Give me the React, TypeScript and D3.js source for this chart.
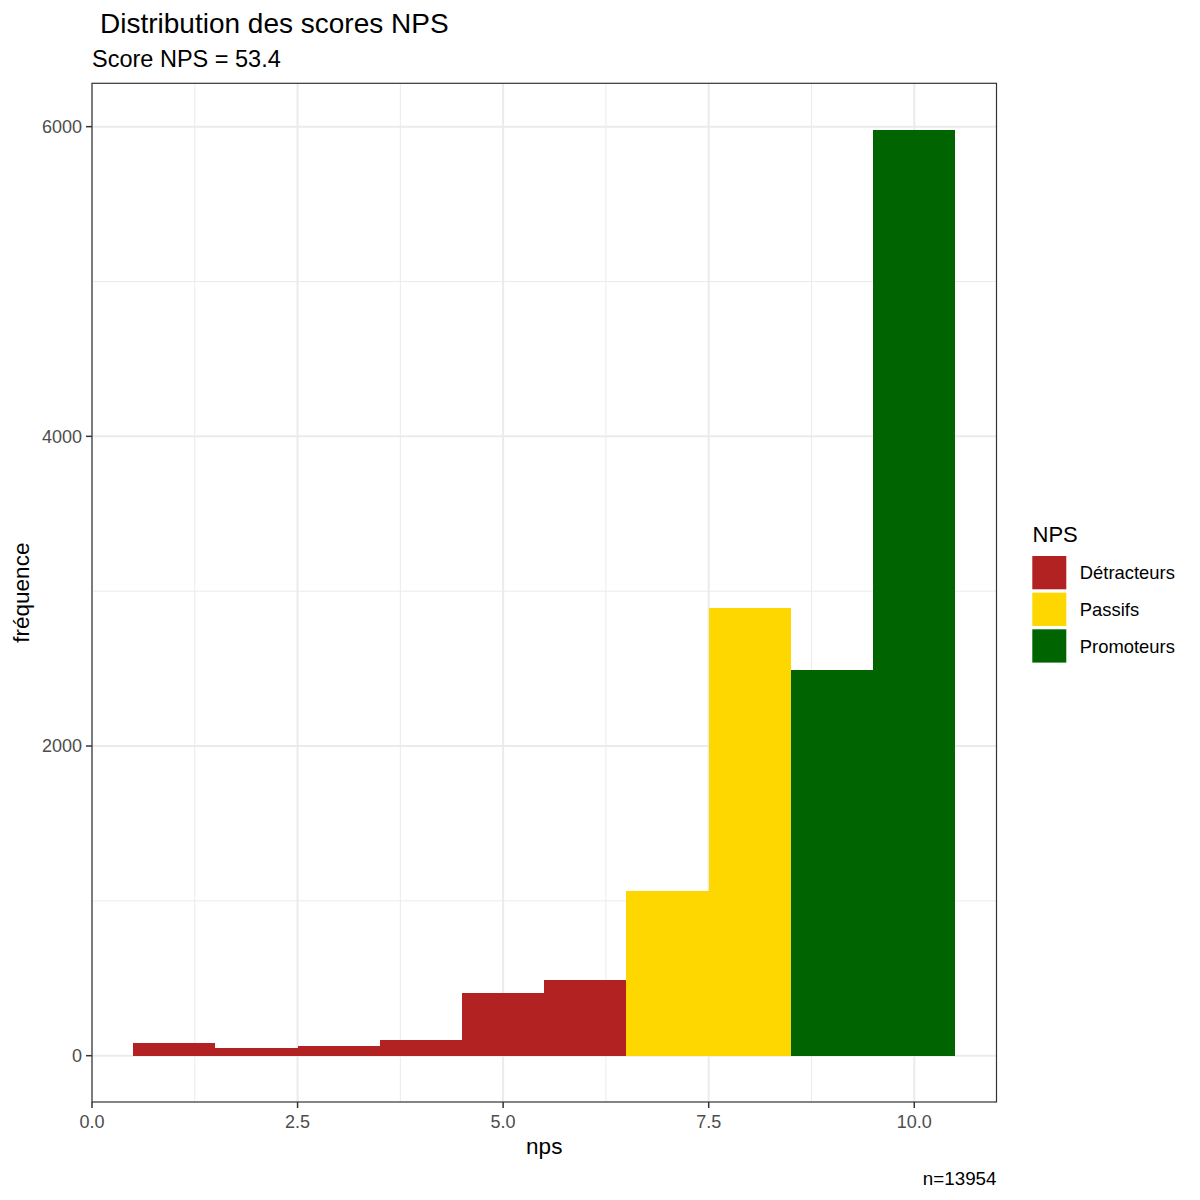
import * as d3 from 'd3';

// NPS histogram, one bar per score
const scores = [1, 2, 3, 4, 5, 6, 7, 8, 9, 10];
const counts = [84, 52, 62, 99, 402, 488, 1066, 2892, 2490, 5981];
const groups = ['Détracteurs', 'Détracteurs', 'Détracteurs', 'Détracteurs', 'Détracteurs', 'Détracteurs', 'Passifs', 'Passifs', 'Promoteurs', 'Promoteurs'];
const categories = ['Détracteurs', 'Passifs', 'Promoteurs'];
const palette = ['#B22222', '#FFD700', '#006400'];
const xTicks = [0, 2.5, 5, 7.5, 10];
const xMinor = [1.25, 3.75, 6.25, 8.75];
const yTicks = [0, 2000, 4000, 6000];
const yMinor = [1000, 3000, 5000];

const W = 1200;
const H = 1200;
const FONT = '"Liberation Sans", Arial, sans-serif';

export default function App() {
  const left = 92;
  const right = 996.5;
  const top = 83.3;
  const bottom = 1102;

  const ymax = d3.max(counts) as number;
  const pad = ymax * 0.05;

  const x = d3.scaleLinear().domain([0, 11]).range([left, right]);
  const y = d3.scaleLinear().domain([-pad, ymax + pad]).range([bottom, top]);
  const color = d3.scaleOrdinal<string, string>().domain(categories).range(palette);

  return (
    <svg width={W} height={H} style={{ position: 'absolute', left: 0, top: 0, fontFamily: FONT }}>
      <rect width={W} height={H} fill="#fff" />

      {/* grid */}
      {yMinor.map((v) => (
        <line key={'ym' + v} x1={left} x2={right} y1={y(v)} y2={y(v)} stroke="#EBEBEB" strokeWidth={1} />
      ))}
      {xMinor.map((v) => (
        <line key={'xm' + v} x1={x(v)} x2={x(v)} y1={top} y2={bottom} stroke="#EBEBEB" strokeWidth={1} />
      ))}
      {yTicks.map((v) => (
        <line key={'yg' + v} x1={left} x2={right} y1={y(v)} y2={y(v)} stroke="#EBEBEB" strokeWidth={2} />
      ))}
      {xTicks.map((v) => (
        <line key={'xg' + v} x1={x(v)} x2={x(v)} y1={top} y2={bottom} stroke="#EBEBEB" strokeWidth={2} />
      ))}

      {/* bars */}
      {scores.map((s, i) => (
        <rect
          key={s}
          x={x(s - 0.5)}
          width={x(s + 0.5) - x(s - 0.5)}
          y={y(counts[i])}
          height={y(0) - y(counts[i])}
          fill={color(groups[i])}
          shapeRendering="crispEdges"
        />
      ))}

      {/* panel border */}
      <rect x={left} y={top} width={right - left} height={bottom - top} fill="none" stroke="#333333" strokeWidth={1.2} />

      {/* y axis */}
      {yTicks.map((v) => (
        <g key={'yt' + v}>
          <line x1={left - 6} x2={left} y1={y(v)} y2={y(v)} stroke="#333333" strokeWidth={1.5} />
          <text x={left - 10} y={y(v)} dy="0.36em" textAnchor="end" fontSize={18} fill="#4D4D4D">
            {v}
          </text>
        </g>
      ))}

      {/* x axis */}
      {xTicks.map((v) => (
        <g key={'xt' + v}>
          <line x1={x(v)} x2={x(v)} y1={bottom} y2={bottom + 6} stroke="#333333" strokeWidth={1.5} />
          <text x={x(v)} y={1127.5} textAnchor="middle" fontSize={18} fill="#4D4D4D">
            {d3.format('.1f')(v)}
          </text>
        </g>
      ))}

      {/* titles */}
      <text x={100} y={33} fontSize={28} fill="#000">Distribution des scores NPS</text>
      <text x={92} y={67} fontSize={23.5} fill="#000">Score NPS = 53.4</text>
      <text x={(left + right) / 2} y={1153.5} textAnchor="middle" fontSize={22.5} fill="#000">nps</text>
      <text
        transform={`translate(28.5,${(top + bottom) / 2}) rotate(-90)`}
        textAnchor="middle"
        fontSize={22.5}
        fill="#000"
      >
        fréquence
      </text>
      <text x={right} y={1185} textAnchor="end" fontSize={18.8} fill="#000">n=13954</text>

      {/* legend */}
      <text x={1032.5} y={541.5} fontSize={22} fill="#000">NPS</text>
      {categories.map((c, i) => (
        <g key={c} transform={`translate(1032.3,${556 + i * 36.65})`}>
          <rect width={34} height={33.3} fill={color(c)} />
          <text x={47.5} y={16.6} dy="0.36em" fontSize={18.4} fill="#000">
            {c}
          </text>
        </g>
      ))}
    </svg>
  );
}
